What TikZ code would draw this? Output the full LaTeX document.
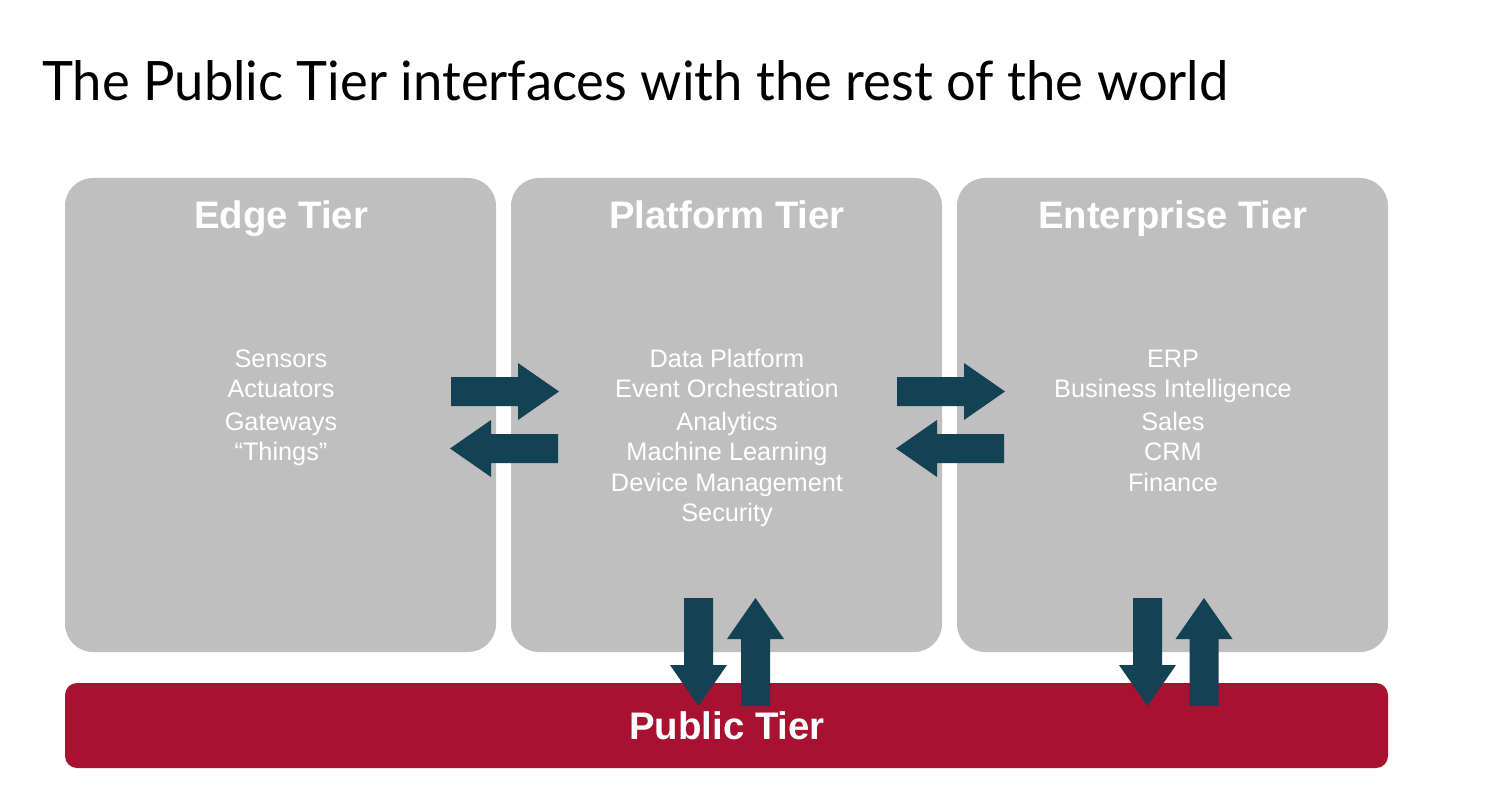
\documentclass[tikz,border=0pt]{standalone}
\usepackage{fontspec}
\setmainfont{Liberation Sans}
\newfontfamily\titlefont{Lato}
\definecolor{tiergrey}{HTML}{BFBFBF}
\definecolor{publicred}{HTML}{A8112F}
\definecolor{arrowteal}{HTML}{134254}
\begin{document}
\begin{tikzpicture}[x=1pt,y=-1pt,
  tierbox/.style={fill=tiergrey, rounded corners=28pt, inner sep=0pt, outer sep=0pt, anchor=north west},
  publicbox/.style={fill=publicred, rounded corners=12pt, inner sep=0pt, outer sep=0pt, anchor=north west},
  tiertitle/.style={text=white, font=\fontsize{38.3}{42}\selectfont\bfseries, anchor=base, inner sep=0pt},
  item/.style={text=white, font=\fontsize{25.3}{28}\selectfont, anchor=base, inner sep=0pt},
  blockarrow/.pic={\fill[arrowteal] (0,-14.5) -- (67,-14.5) -- (67,-28.5) -- (108,0) -- (67,28.5) -- (67,14.5) -- (0,14.5) -- cycle;}
]
\fill[white] (0,0) rectangle (1504,799);
\useasboundingbox (0,0) rectangle (1504,799);

% heading
\node[anchor=base west, inner sep=0pt] (heading) at (42,101)
  {\resizebox{1186pt}{40pt}{\titlefont The Public Tier interfaces with the rest of the world}};

% the three tiers and the public tier
\node[tierbox, minimum width=431pt, minimum height=474pt] (edge) at (65,178) {};
\node[tierbox, minimum width=431pt, minimum height=474pt] (platform) at (511,178) {};
\node[tierbox, minimum width=431pt, minimum height=474pt] (enterprise) at (957,178) {};
\node[publicbox, minimum width=1323pt, minimum height=85pt] (public) at (65,683) {};

\node[tiertitle] (edgeT) at (281,229) {Edge Tier};
\node[tiertitle] (platT) at (727,229) {Platform Tier};
\node[tiertitle] (entT) at (1173,229) {Enterprise Tier};

% tier contents
\node[item] (e1) at (281,367) {Sensors};
\node[item] (e2) at (281,397) {Actuators};
\node[item] (e3) at (281,430) {Gateways};
\node[item] (e4) at (281,460) {“Things”};

\node[item] (p1) at (727,367) {Data Platform};
\node[item] (p2) at (727,397) {Event Orchestration};
\node[item] (p3) at (727,430) {Analytics};
\node[item] (p4) at (727,460) {Machine Learning};
\node[item] (p5) at (727,491) {Device Management};
\node[item] (p6) at (727,521) {Security};

\node[item] (n1) at (1173,367) {ERP};
\node[item] (n2) at (1173,397) {Business Intelligence};
\node[item] (n3) at (1173,430) {Sales};
\node[item] (n4) at (1173,460) {CRM};
\node[item] (n5) at (1173,491) {Finance};

% data flows between tiers
\pic at (451,391.5) {blockarrow};
\pic[rotate=180] at (558,448.5) {blockarrow};
\pic at (897,391.5) {blockarrow};
\pic[rotate=180] at (1004,448.5) {blockarrow};

\pic[rotate=-90] at (698.5,598) {blockarrow};
\pic[rotate=90] at (755.5,706) {blockarrow};
\pic[rotate=-90] at (1147.5,598) {blockarrow};
\pic[rotate=90] at (1204,706) {blockarrow};

\node[text=white, font=\fontsize{38.4}{42}\selectfont\bfseries, anchor=base, inner sep=0pt] (publicT) at (727,739) {Public Tier};
\end{tikzpicture}
\end{document}
